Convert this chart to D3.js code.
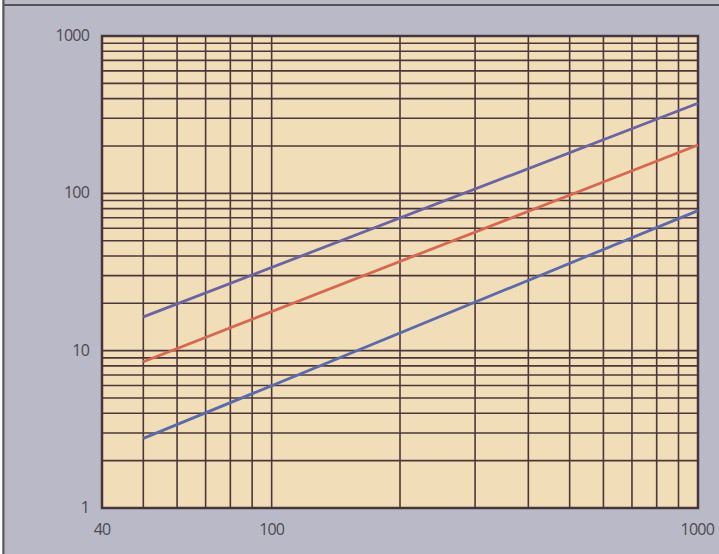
<!DOCTYPE html>
<html>
<head>
<meta charset="utf-8">
<script src="https://cdn.jsdelivr.net/npm/d3@7"></script>
<style>
  html, body { margin: 0; padding: 0; background: #fdfdfd; }
  svg { display: block; }
  .tick-label { font-family: "Open Sans", "DejaVu Sans", sans-serif; font-size: 16px; fill: #4e4a4e; letter-spacing: -0.8px; }
</style>
</head>
<body>
<div id="chart"></div>
<script>
// values (log-log, straight lines)
const xs         = [50, 1000]
const upperLine  = [16.4, 374]
const middleLine = [8.5, 203]
const lowerLine  = [2.77, 77.6]

const xTickLabels = [40, 100, 1000]
const yTickLabels = [1, 10, 100, 1000]

const W = 719, H = 554,
      m = { left: 102, right: 21, top: 36, bottom: 46 }

const svg = d3.select('#chart').append('svg')
  .attr('width', W).attr('height', H)

// page background and the frame lines at top / left
svg.append('rect').attr('x', 2).attr('y', 0).attr('width', W - 2).attr('height', H)
  .attr('fill', '#bab9c8')
svg.append('line').attr('x1', 3.5).attr('x2', 3.5).attr('y1', 0).attr('y2', H)
  .attr('stroke', '#5a5458').attr('stroke-width', 2)
svg.append('line').attr('x1', 3).attr('x2', W).attr('y1', 5).attr('y2', 5)
  .attr('stroke', '#5a5458').attr('stroke-width', 2)

const x = d3.scaleLog().domain([40, 1000]).range([m.left, W - m.right]),
      y = d3.scaleLog().domain([1, 1000]).range([H - m.bottom, m.top])

svg.append('rect')
  .attr('x', x(40)).attr('y', y(1000))
  .attr('width', x(1000) - x(40)).attr('height', y(1) - y(1000))
  .attr('fill', '#f1deb9')

const grid = svg.append('g').attr('stroke', '#4b3739').attr('stroke-width', 1.6)

const xGrid = x.ticks().filter(v => v > 40 && v < 1000),
      yGrid = y.ticks().filter(v => v > 1 && v < 1000)

grid.selectAll('.vx').data(xGrid).enter().append('line')
  .attr('x1', d => x(d)).attr('x2', d => x(d))
  .attr('y1', y(1000)).attr('y2', y(1))

grid.selectAll('.hy').data(yGrid).enter().append('line')
  .attr('x1', x(40)).attr('x2', x(1000))
  .attr('y1', d => y(d)).attr('y2', d => y(d))

// plot frame
svg.append('rect')
  .attr('x', x(40)).attr('y', y(1000))
  .attr('width', x(1000) - x(40)).attr('height', y(1) - y(1000))
  .attr('fill', 'none').attr('stroke', '#46363a').attr('stroke-width', 2.5)

const line = d3.line().x((d, i) => x(xs[i])).y(d => y(d))

const series = [
  { values: upperLine,  color: '#6a64a0' },
  { values: middleLine, color: '#d8674f' },
  { values: lowerLine,  color: '#5b6aa8' }
]

svg.selectAll('.series').data(series).enter().append('path')
  .attr('d', d => line(d.values))
  .attr('fill', 'none')
  .attr('stroke', d => d.color)
  .attr('stroke-width', 2.8)

// tick labels
svg.selectAll('.ylab').data(yTickLabels).enter().append('text')
  .attr('class', 'tick-label')
  .attr('x', 89).attr('y', d => y(d) + 5)
  .attr('text-anchor', 'end')
  .text(d => d)

svg.selectAll('.xlab').data(xTickLabels).enter().append('text')
  .attr('class', 'tick-label')
  .attr('x', d => x(d) + (d === 1000 ? 16 : 0)).attr('y', 535)
  .attr('text-anchor', d => d === 1000 ? 'end' : 'middle')
  .text(d => d)
</script>
</body>
</html>
